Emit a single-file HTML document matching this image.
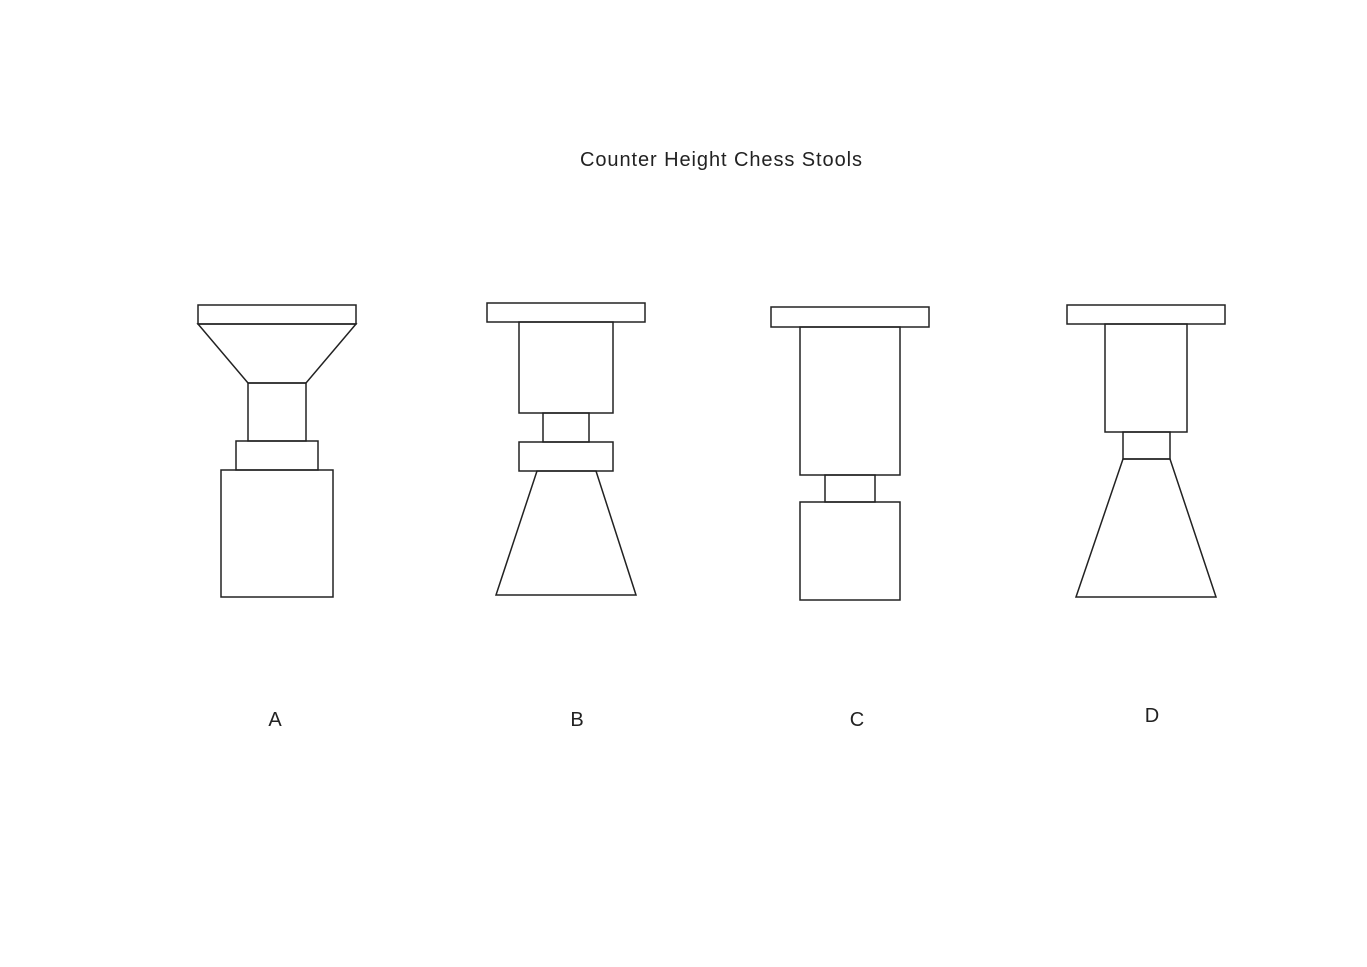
<!DOCTYPE html>
<html><head><meta charset="utf-8"><style>
html,body{margin:0;padding:0;background:#fff;}
svg{display:block}
text{font-family:"Liberation Sans",sans-serif;fill:#222;}
</style></head><body>
<svg width="1367" height="967" viewBox="0 0 1367 967" xmlns="http://www.w3.org/2000/svg">
<rect width="1367" height="967" fill="#fff"/>
<text x="580" y="166" font-size="20" textLength="282" lengthAdjust="spacing" fill="#333">Counter Height Chess Stools</text>
<g fill="none" stroke="#222" stroke-width="1.5">
<rect x="198" y="305" width="158" height="19"/>
<polygon points="198,324 356,324 306,383 248,383"/>
<rect x="248" y="383" width="58" height="58"/>
<rect x="236" y="441" width="82" height="29"/>
<rect x="221" y="470" width="112" height="127"/>
<rect x="487" y="303" width="158" height="19"/>
<rect x="519" y="322" width="94" height="91"/>
<rect x="543" y="413" width="46" height="29"/>
<rect x="519" y="442" width="94" height="29"/>
<polygon points="537,471 596,471 636,595 496,595"/>
<rect x="771" y="307" width="158" height="20"/>
<rect x="800" y="327" width="100" height="148"/>
<rect x="825" y="475" width="50" height="27"/>
<rect x="800" y="502" width="100" height="98"/>
<rect x="1067" y="305" width="158" height="19"/>
<rect x="1105" y="324" width="82" height="108"/>
<rect x="1123" y="432" width="47" height="27"/>
<polygon points="1123,459 1170,459 1216,597 1076,597"/>
</g>
<text x="275" y="726" font-size="20" text-anchor="middle">A</text>
<text x="577" y="726" font-size="20" text-anchor="middle">B</text>
<text x="857" y="726" font-size="20" text-anchor="middle">C</text>
<text x="1152" y="722" font-size="20" text-anchor="middle">D</text>
</svg>
</body></html>
